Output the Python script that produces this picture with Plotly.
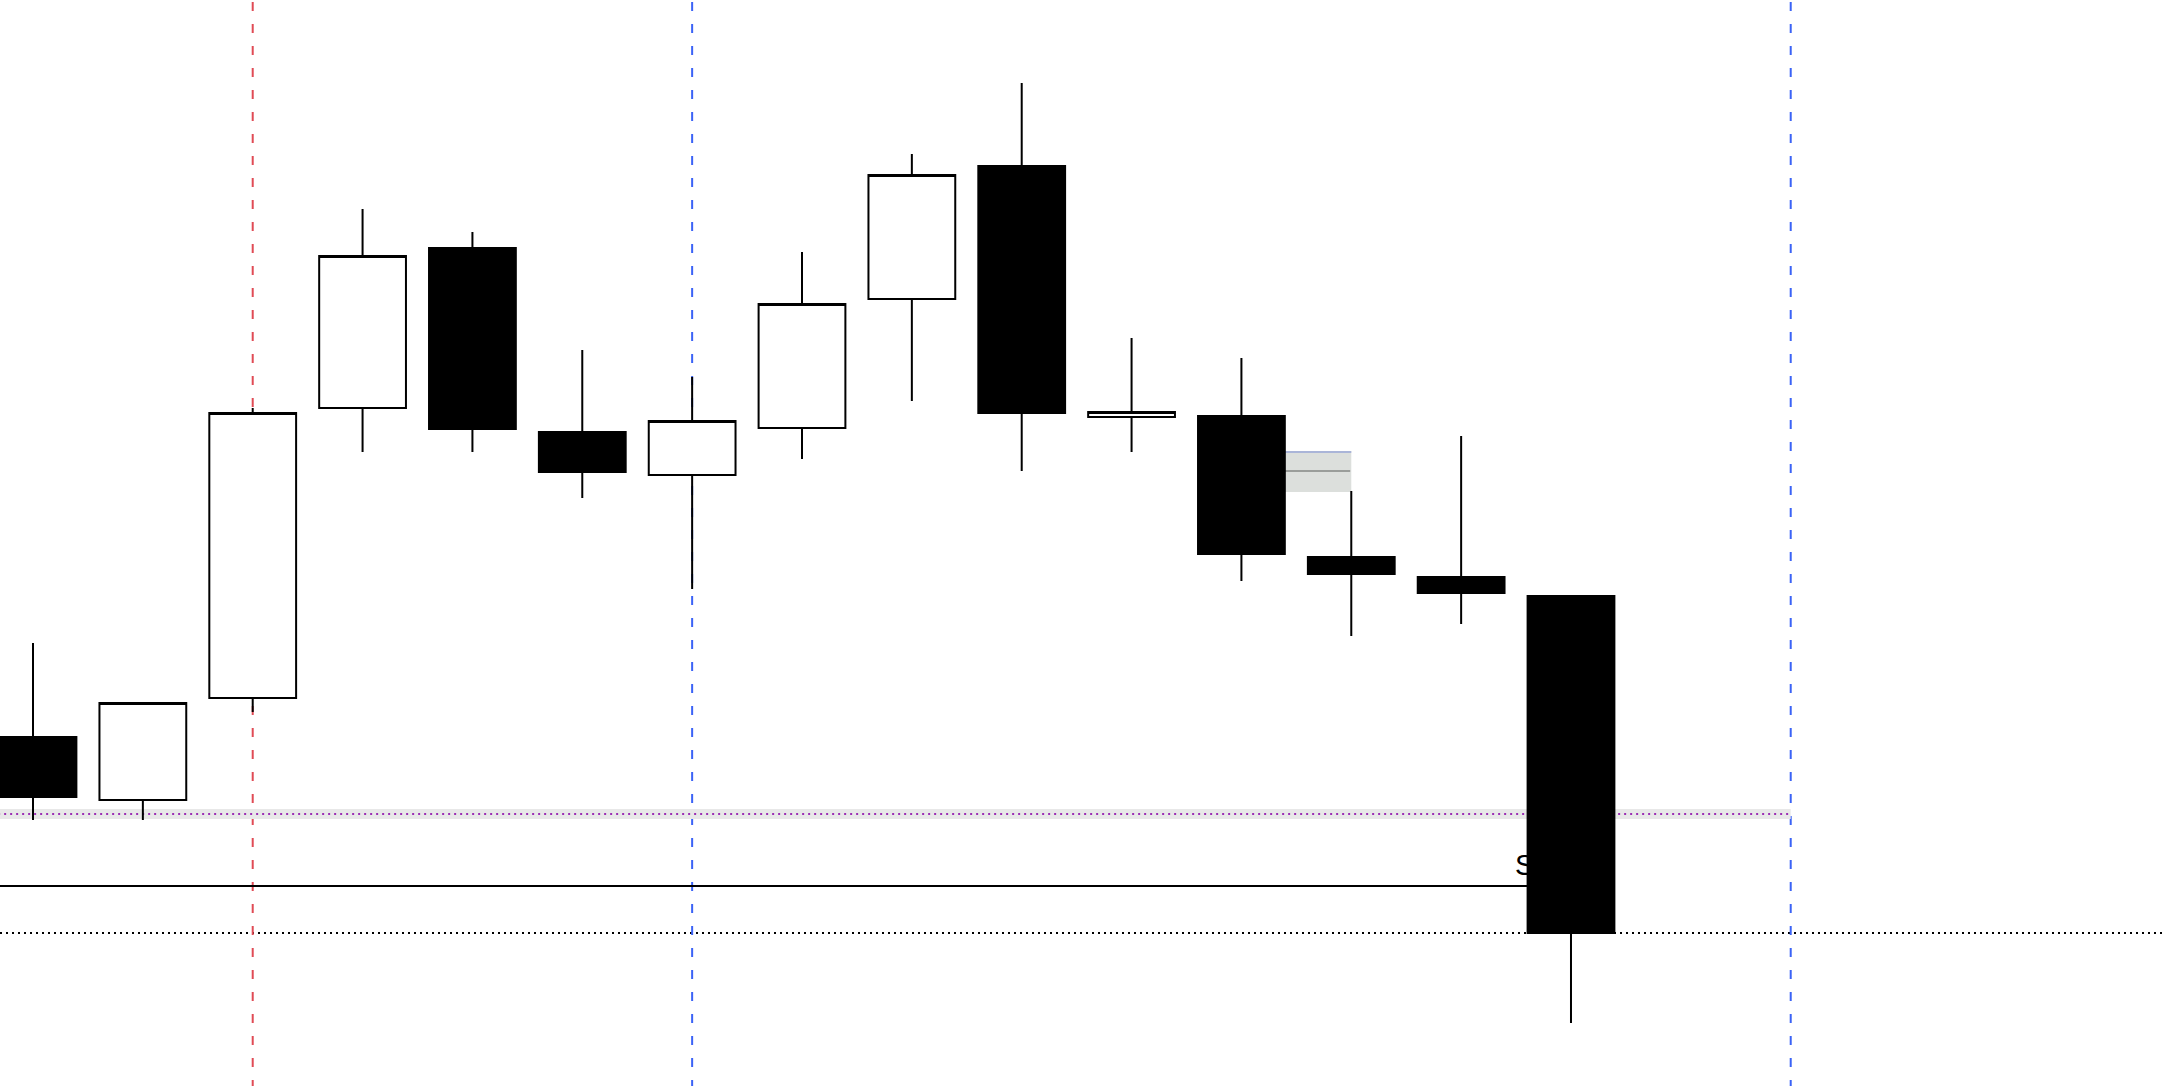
import plotly.graph_objects as go

# ---- data (price units) ----
bar_index = list(range(15))
opens  = [34.9, 28.6, 38.8, 67.8, 83.8, 65.4, 61.1, 65.8, 78.7, 92.0, 66.9, 67.0, 52.9, 50.9, 49.0]
highs  = [44.3, 38.3, 67.8, 87.7, 85.4, 73.6, 70.9, 83.4, 93.2, 100.3, 74.8, 72.8, 59.5, 65.0, 49.0]
lows   = [26.6, 26.6, 37.4, 63.4, 63.4, 58.8, 49.7, 62.7, 68.5, 61.5, 63.4, 50.5, 45.0, 46.2, 6.3]
closes = [28.9, 38.3, 67.3, 83.0, 65.7, 61.4, 66.5, 78.2, 91.1, 67.3, 67.4, 53.2, 51.2, 49.3, 15.3]

# levels / markers
purple_level = 27.2
purple_band = [26.7, 27.7]
purple_end = 16
sl_level = 20.0
sl_end = 14
sl_label = "SL"
sl_label_pos = [13.435, 22.4]
close_level = 15.3
red_vlines = [2]
blue_vlines = [6, 16]
zone_x = [11.38, 12.0]
zone_y = [59.4, 63.5]
zone_mid = 61.5

x_range = [-0.3004, 19.398]
y_range = [0, 108.6]

fig = go.Figure()

fig.add_trace(go.Candlestick(
    x=bar_index, open=opens, high=highs, low=lows, close=closes,
    increasing=dict(line=dict(color="black", width=2), fillcolor="white"),
    decreasing=dict(line=dict(color="black", width=2), fillcolor="black"),
    whiskerwidth=0, showlegend=False, hoverinfo="skip",
))

shapes = []
# gray band under purple dotted line
shapes.append(dict(type="rect", xref="x", yref="y", x0=x_range[0] - 1, x1=purple_end,
                   y0=purple_band[0], y1=purple_band[1], fillcolor="#e8e8e8",
                   line=dict(width=0), layer="below"))
shapes.append(dict(type="line", xref="x", yref="y", x0=x_range[0] - 1, x1=purple_end,
                   y0=purple_level, y1=purple_level,
                   line=dict(color="#9b2db4", width=2, dash="2px,4px"), layer="below"))
# SL solid line
shapes.append(dict(type="line", xref="x", yref="y", x0=x_range[0] - 1, x1=sl_end,
                   y0=sl_level, y1=sl_level, line=dict(color="black", width=2), layer="below"))
# SL label (hidden behind last candle)
shapes.append(dict(type="rect", xref="x", yref="y", x0=sl_label_pos[0], x1=sl_label_pos[0] + 0.6,
                   y0=sl_label_pos[1] - 1.5, y1=sl_label_pos[1] + 1.5,
                   fillcolor="rgba(0,0,0,0)", line=dict(width=0), layer="below",
                   label=dict(text=sl_label, textposition="middle left",
                              font=dict(size=29, color="black", family="Liberation Sans"))))
# black dotted close line
shapes.append(dict(type="line", xref="paper", yref="y", x0=0, x1=1,
                   y0=close_level, y1=close_level,
                   line=dict(color="black", width=2, dash="2px,4px"), layer="below"))
# vertical dashed lines
for v in red_vlines:
    shapes.append(dict(type="line", xref="x", yref="paper", x0=v, x1=v, y0=1.0184, y1=-0.01,
                       line=dict(color="#e04b55", width=2, dash="9px,13px"), layer="below"))
for v in blue_vlines:
    shapes.append(dict(type="line", xref="x", yref="paper", x0=v, x1=v, y0=1.0184, y1=-0.01,
                       line=dict(color="#3b63f6", width=2, dash="9px,13px"), layer="below"))
# gray zone
shapes.append(dict(type="rect", xref="x", yref="y", x0=zone_x[0], x1=zone_x[1],
                   y0=zone_y[0], y1=zone_y[1], fillcolor="#dcdfdc",
                   line=dict(width=0), layer="below"))
shapes.append(dict(type="line", xref="x", yref="y", x0=zone_x[0], x1=zone_x[1],
                   y0=zone_y[1] - 0.1, y1=zone_y[1] - 0.1,
                   line=dict(color="#aab5d8", width=2), layer="below"))
shapes.append(dict(type="line", xref="x", yref="y", x0=zone_x[0], x1=zone_x[1] - 0.01,
                   y0=zone_mid, y1=zone_mid,
                   line=dict(color="#9a9d9a", width=2), layer="below"))

fig.update_layout(
    width=2164, height=1086,
    margin=dict(l=0, r=0, t=0, b=0, pad=0),
    paper_bgcolor="white", plot_bgcolor="white",
    showlegend=False,
    boxgap=0.21, boxgroupgap=0,
    shapes=shapes,
    xaxis=dict(range=x_range, visible=False, showgrid=False, zeroline=False,
               rangeslider=dict(visible=False), fixedrange=True),
    yaxis=dict(range=y_range, visible=False, showgrid=False, zeroline=False, fixedrange=True),
)

fig.write_html("out.html", config={"displayModeBar": False},
               post_script="document.body.style.margin='0';document.body.style.overflow='hidden';")
